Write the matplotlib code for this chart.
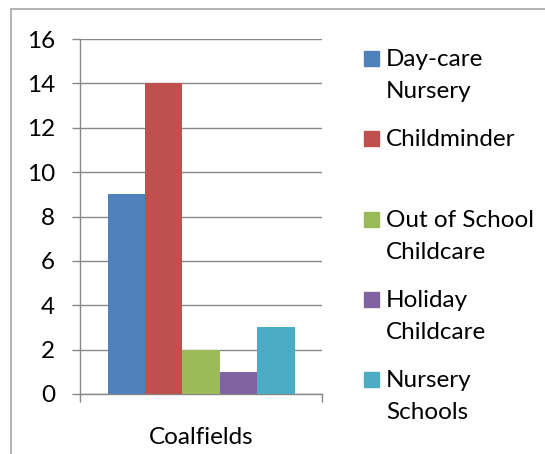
import matplotlib.pyplot as plt
from matplotlib.patches import Rectangle

# data
category = 'Coalfields'
series = ['Day-care\nNursery', 'Childminder', 'Out of School\nChildcare',
          'Holiday\nChildcare', 'Nursery\nSchools']
values = [9, 14, 2, 1, 3]
colors = ['#4F81BD', '#C0504D', '#9BBB59', '#8064A2', '#4BACC6']
yticks = [0, 2, 4, 6, 8, 10, 12, 14, 16]

plt.rcParams['font.family'] = ['Lato', 'DejaVu Sans']
fs = 17.5

W, H = 545, 454
fig = plt.figure(figsize=(W / 100, H / 100), dpi=100)

# outer chart border (only top and left visible in the crop)
fig.add_artist(Rectangle((11 / W, -0.5), 2.0, 1.5 - 9 / H,
                         transform=fig.transFigure, fill=False,
                         edgecolor='#A6A6A6', linewidth=1.2))

ax = fig.add_axes([80 / W, 1 - 394 / H, (322 - 80) / W, (394 - 39) / H])

bw = 187 / 242 / len(values)
start = -bw * len(values) / 2
for i, (v, c) in enumerate(zip(values, colors)):
    ax.bar(start + bw * (i + 0.5), v, width=bw, color=c, zorder=3)

ax.set_xlim(-0.5, 0.5)
ax.set_ylim(0, 16)
ax.set_yticks(yticks)
ax.yaxis.grid(True, color='#878787', linewidth=1.0, zorder=0)
ax.set_axisbelow(True)

ax.set_xticks([0])
ax.set_xticklabels([category])
ax.set_xticks([-0.5, 0.5], minor=True)
ax.tick_params(axis='x', which='major', length=0, pad=24, labelsize=fs)
ax.tick_params(axis='x', which='minor', length=6, width=1.0, color='#878787', direction='out')
ax.tick_params(axis='y', length=6, width=1.0, color='#878787', direction='out',
               pad=12, labelsize=fs)

for s in ['top', 'right']:
    ax.spines[s].set_visible(False)
for s in ['left', 'bottom']:
    ax.spines[s].set_color('#878787')
    ax.spines[s].set_linewidth(1.0)

# legend drawn by hand to keep Excel's spacing
base = [66, 146, 227, 307, 387]
for lbl, c, b in zip(series, colors, base):
    fig.add_artist(Rectangle((364 / W, 1 - b / H), 15 / W, 15 / H,
                             transform=fig.transFigure, color=c))
    for k, line in enumerate(lbl.split('\n')):
        fig.text(386 / W, 1 - (b + 32 * k) / H, line, fontsize=fs,
                 va='baseline', ha='left')

fig.savefig('out.png', dpi=100)
